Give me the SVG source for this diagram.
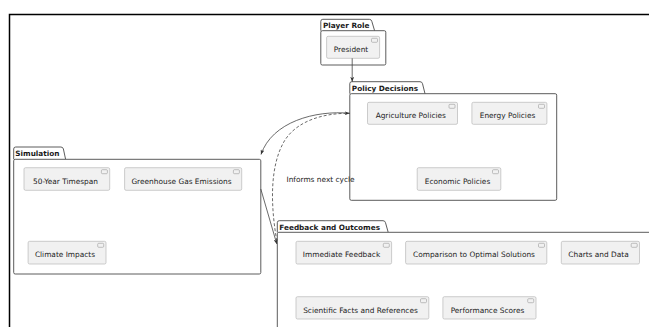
<svg xmlns="http://www.w3.org/2000/svg" width="649" height="327" viewBox="0 0 649 327">
<defs>
<style>
.pkg{fill:#ffffff;stroke:#4a4a4a;stroke-width:0.9}
.ptitle{font-family:"DejaVu Sans",sans-serif;font-size:7.3px;font-weight:bold;fill:#1a1a1a}
.comp{fill:#f1f1f1;stroke:#b8b8b8;stroke-width:0.7}
.icon{fill:#f1f1f1;stroke:#9a9a9a;stroke-width:0.6}
.ctext{font-family:"DejaVu Sans",sans-serif;font-size:7.4px;fill:#222;text-anchor:middle}
.edge{fill:none;stroke:#444;stroke-width:0.8}
.dash{stroke-dasharray:3,2}
.lbl{font-family:"DejaVu Sans",sans-serif;font-size:7.4px;fill:#222}
</style>
<marker id="arr" viewBox="0 0 10 8" refX="10" refY="4" markerWidth="5" markerHeight="4" orient="auto" markerUnits="userSpaceOnUse">
<path d="M0,0 L10,4 L0,8 L3,4 Z" fill="#333"/>
</marker>
<symbol id="cicon" viewBox="0 0 8 5" overflow="visible">
<rect x="0" y="0" width="7" height="4.5" rx="1" class="icon"/>
</symbol>
</defs>
<rect width="649" height="327" fill="#ffffff"/>
<path d="M9.5,327 L9.5,14.5 L649,14.5" fill="none" stroke="#000" stroke-width="1.5"/>

<g id="pkg-player-role">
<path class="pkg" d="M320.8,30.7 L320.8,21.3 Q320.8,19.3 322.8,19.3 L369.3,19.3 Q371.3,19.3 371.8,21.3 L374.6,30.7"/>
<rect class="pkg" x="320.8" y="30.7" width="65" height="34.3" rx="1.5"/>
<text class="ptitle" x="323" y="28">Player Role</text>
</g>
<g id="president">
<rect class="comp" x="326.6" y="36.3" width="53" height="22" rx="1.5"/>
<rect class="icon" x="371.5" y="38.3" width="6" height="4" rx="1"/>
<text class="ctext" x="351" y="52">President</text>
</g>

<g id="pkg-policy-decisions">
<path class="pkg" d="M349.8,93.7 L349.8,83.7 Q349.8,81.7 351.8,81.7 L420,81.7 Q422,81.7 422.5,83.7 L425,93.7"/>
<rect class="pkg" x="349.8" y="93.7" width="206.9" height="106.6" rx="1.5"/>
<text class="ptitle" x="351.8" y="90.8">Policy Decisions</text>
</g>
<g id="agriculture-policies">
<rect class="comp" x="367.5" y="102.3" width="90" height="22" rx="1.5"/>
<rect class="icon" x="449" y="104.3" width="6" height="4" rx="1"/>
<text class="ctext" x="410.8" y="118.2">Agriculture Policies</text>
</g>
<g id="energy-policies">
<rect class="comp" x="471.9" y="102.3" width="75" height="22" rx="1.5"/>
<rect class="icon" x="538.5" y="104.3" width="6" height="4" rx="1"/>
<text class="ctext" x="507.5" y="118.2">Energy Policies</text>
</g>
<g id="economic-policies">
<rect class="comp" x="417.2" y="167.7" width="83.6" height="22.6" rx="1.5"/>
<rect class="icon" x="492.5" y="169.7" width="6" height="4" rx="1"/>
<text class="ctext" x="457.5" y="183.7">Economic Policies</text>
</g>

<g id="pkg-simulation">
<path class="pkg" d="M13.7,159.3 L13.7,149 Q13.7,147 15.7,147 L60.9,147 Q62.9,147 63.4,149 L65.6,159.3"/>
<rect class="pkg" x="13.7" y="159.3" width="247.1" height="114.7" rx="1.5"/>
<text class="ptitle" x="15.3" y="156.3">Simulation</text>
</g>
<g id="timespan">
<rect class="comp" x="24" y="167.7" width="85.7" height="22.6" rx="1.5"/>
<rect class="icon" x="101.4" y="169.7" width="6" height="4" rx="1"/>
<text class="ctext" x="65.5" y="183.7">50-Year Timespan</text>
</g>
<g id="ghg-emissions">
<rect class="comp" x="124.6" y="167.7" width="117.1" height="22.6" rx="1.5"/>
<rect class="icon" x="233.4" y="169.7" width="6" height="4" rx="1"/>
<text class="ctext" x="181.5" y="183.7">Greenhouse Gas Emissions</text>
</g>
<g id="climate-impacts">
<rect class="comp" x="28.1" y="241.3" width="77.9" height="22.7" rx="1.5"/>
<rect class="icon" x="97.7" y="243.3" width="6" height="4" rx="1"/>
<text class="ctext" x="65" y="257.3">Climate Impacts</text>
</g>

<g id="pkg-feedback">
<path class="pkg" d="M277.3,232.3 L277.3,222.7 Q277.3,220.7 279.3,220.7 L383,220.7 Q385,220.7 385.5,222.7 L388.2,232.3"/>
<rect class="pkg" x="277.3" y="232.3" width="390" height="110" rx="1.5"/>
<text class="ptitle" x="279.3" y="229.6">Feedback and Outcomes</text>
</g>
<g id="immediate-feedback">
<rect class="comp" x="296" y="241.3" width="95.6" height="22.7" rx="1.5"/>
<rect class="icon" x="383.3" y="243.3" width="6" height="4" rx="1"/>
<text class="ctext" x="341.5" y="257.3">Immediate Feedback</text>
</g>
<g id="comparison">
<rect class="comp" x="405.6" y="241.3" width="141.2" height="22.7" rx="1.5"/>
<rect class="icon" x="538.5" y="243.3" width="6" height="4" rx="1"/>
<text class="ctext" x="474" y="257.3">Comparison to Optimal Solutions</text>
</g>
<g id="charts-data">
<rect class="comp" x="561.3" y="241.3" width="78.2" height="22.7" rx="1.5"/>
<rect class="icon" x="631.2" y="243.3" width="6" height="4" rx="1"/>
<text class="ctext" x="598.5" y="257.3">Charts and Data</text>
</g>
<g id="scientific-facts">
<rect class="comp" x="296" y="296.7" width="132.8" height="22.3" rx="1.5"/>
<rect class="icon" x="420.5" y="298.7" width="6" height="4" rx="1"/>
<text class="ctext" x="360.5" y="312.6">Scientific Facts and References</text>
</g>
<g id="performance-scores">
<rect class="comp" x="442.9" y="296.7" width="93.1" height="22.3" rx="1.5"/>
<rect class="icon" x="527.7" y="298.7" width="6" height="4" rx="1"/>
<text class="ctext" x="487.5" y="312.6">Performance Scores</text>
</g>

<g id="connectors">
<path class="edge" d="M352.2,58.3 L352.2,81.7" marker-end="url(#arr)"/>
<path class="edge" d="M349.8,113.3 C315,110 272,122 261,154.5" marker-end="url(#arr)"/>
<path class="edge" d="M260.8,189 L276.8,244" marker-end="url(#arr)"/>
<path class="edge dash" d="M276.8,241 C270.5,205 269.5,165 285,140 C298,120 325,113 349.6,113.3" marker-end="url(#arr)"/>
<text class="lbl" x="286.5" y="182">Informs next cycle</text>
</g>
</svg>
